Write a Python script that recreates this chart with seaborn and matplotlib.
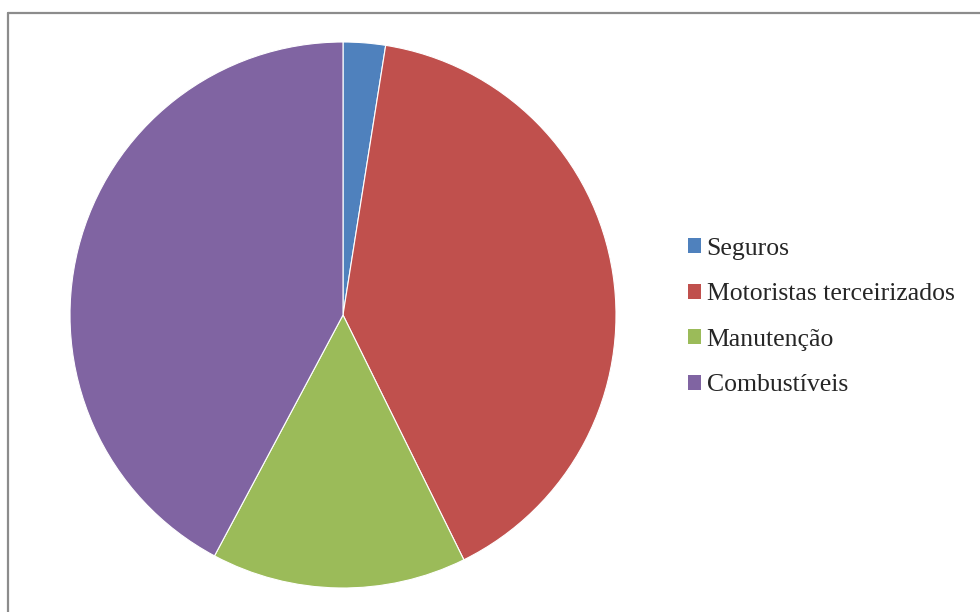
import matplotlib
matplotlib.use('Agg')
import matplotlib.pyplot as plt
import seaborn as sns
from matplotlib.patches import Patch
from matplotlib.lines import Line2D

# --- Data ---
categories = ['Seguros', 'Motoristas terceirizados', 'Manutenção', 'Combustíveis']
shares = [2.5, 40.2, 15.1, 42.2]
slice_colors = ['#4F81BD', '#C0504D', '#9BBB59', '#8064A2']

# --- Style ---
sns.set_theme(style='white')
plt.rcParams['font.family'] = ['Liberation Serif', 'DejaVu Serif']
palette = sns.color_palette(slice_colors)

fig = plt.figure(figsize=(9.8, 6.12), dpi=100)
fig.patch.set_facecolor('white')

# outer chart-area border (top and left visible, the rest is cropped)
fig.add_artist(Line2D([7.5 / 980, 7.5 / 980], [0, 1 - 12.5 / 612],
                      transform=fig.transFigure, color='#8c8c8c', lw=1.6))
fig.add_artist(Line2D([7.5 / 980, 1], [1 - 12.5 / 612, 1 - 12.5 / 612],
                      transform=fig.transFigure, color='#8c8c8c', lw=1.6))

ax = fig.add_axes([70 / 980, 1 - 588 / 612, 546 / 980, 546 / 612])
ax.pie(shares, colors=palette, startangle=90, counterclock=False,
       wedgeprops=dict(edgecolor='white', linewidth=0.8))
ax.set_xlim(-1, 1)
ax.set_ylim(-1, 1)
ax.set_aspect('equal')
ax.axis('off')

handles = [Patch(facecolor=c, edgecolor='none') for c in palette]
fig.legend(handles, categories, loc='upper left',
           bbox_to_anchor=(688 / 980, 1 - 238 / 612),
           frameon=False, fontsize=18.5, handlelength=0.52, handleheight=0.52,
           handletextpad=0.2, labelspacing=0.91, borderaxespad=0,
           borderpad=0)

fig.savefig('out.png', dpi=100, facecolor='white')
plt.close(fig)
